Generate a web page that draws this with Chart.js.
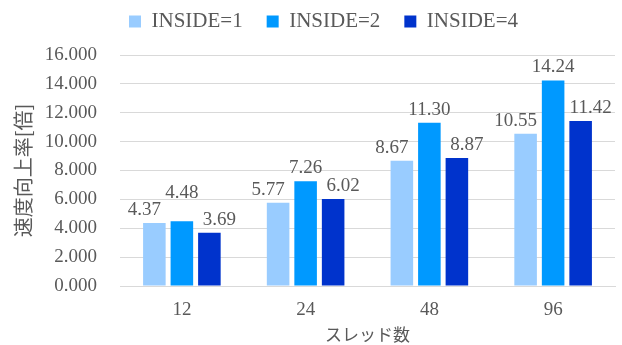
<!DOCTYPE html>
<html>
<head>
<meta charset="utf-8">
<script src="https://cdn.jsdelivr.net/npm/chart.js"></script>
<style>
  html, body { margin: 0; padding: 0; background: #fff; }
  #wrap { width: 622px; height: 345px; }
</style>
</head>
<body>
<div id="wrap"><canvas id="myChart" width="622" height="345"></canvas></div>
<script>
const threads = ["12", "24", "48", "96"];
const inside1 = [4.37, 5.77, 8.67, 10.55];
const inside2 = [4.48, 7.26, 11.30, 14.24];
const inside4 = [3.69, 6.02, 8.87, 11.42];
const yTicks = [0, 2, 4, 6, 8, 10, 12, 14, 16];

const serif = "'Liberation Serif', 'Times New Roman', Times, 'DejaVu Serif', serif";
const jp = "'Noto Sans CJK JP', sans-serif";
const grey = "#595959";

Chart.defaults.font.family = serif;
Chart.defaults.color = grey;

// values above each bar; outer labels spread sideways, middle one lifted if it collides
const barLabels = {
  id: "barLabels",
  afterDatasetsDraw(chart) {
    const ctx = chart.ctx;
    const size = 19, gap = 13, spread = 10, lift = 17;
    ctx.save();
    ctx.font = size + "px " + serif;
    ctx.fillStyle = grey;
    ctx.textAlign = "center";
    ctx.textBaseline = "middle";
    const n = chart.data.datasets.length;
    chart.data.labels.forEach((_, j) => {
      const items = chart.data.datasets.map((ds, i) => {
        const bar = chart.getDatasetMeta(i).data[j];
        const text = ds.data[j].toFixed(2);
        return { text, x: bar.x + (i - (n - 1) / 2) * spread, y: bar.y - gap, w: ctx.measureText(text).width };
      });
      const mid = items[1];
      [items[0], items[2]].forEach(o => {
        if (Math.abs(o.x - mid.x) < (o.w + mid.w) / 2 + 6) mid.y = Math.min(mid.y, o.y - lift);
      });
      items.forEach(it => ctx.fillText(it.text, it.x, it.y));
    });
    ctx.restore();
  }
};

// move the legend row up and a bit right, like the original
const legendShift = {
  id: "legendShift",
  afterLayout(chart) {
    const lg = chart.legend;
    lg.left += 16; lg.right += 16;
    lg.top -= 13; lg.bottom -= 13;
  }
};

new Chart(document.getElementById("myChart"), {
  type: "bar",
  data: {
    labels: threads,
    datasets: [
      { label: "INSIDE=1", data: inside1, backgroundColor: "#99CCFF" },
      { label: "INSIDE=2", data: inside2, backgroundColor: "#0099FF" },
      { label: "INSIDE=4", data: inside4, backgroundColor: "#0033CC" }
    ]
  },
  options: {
    responsive: false,
    animation: false,
    layout: { padding: { left: 0, right: 7, top: 0, bottom: 0 } },
    datasets: { bar: { categoryPercentage: 0.667, barPercentage: 0.82 } },
    plugins: {
      tooltip: { enabled: false },
      legend: {
        position: "top",
        labels: {
          font: { family: serif, size: 21 },
          color: grey,
          boxWidth: 12,
          boxHeight: 12,
          padding: 24
        }
      }
    },
    scales: {
      x: {
        afterFit(scale) { scale.height = 59; },
        grid: { display: false, drawTicks: false },
        border: { color: "#d9d9d9" },
        ticks: { font: { family: serif, size: 19 }, color: grey, padding: 13 },
        title: { display: true, text: "スレッド数", font: { family: jp, size: 17 }, color: grey, padding: { top: 0, bottom: 0 } }
      },
      y: {
        min: 0,
        max: 16,
        afterBuildTicks(scale) { scale.ticks = yTicks.map(v => ({ value: v })); },
        afterFit(scale) { scale.width = 120; },
        grid: { color: "#d9d9d9", drawTicks: false },
        border: { display: false },
        ticks: {
          font: { family: serif, size: 19 },
          color: grey,
          padding: 23,
          callback: v => Number(v).toFixed(3)
        },
        title: { display: true, text: "速度向上率[倍]", font: { family: jp, size: 20 }, color: grey, padding: { top: 11, bottom: 11 } }
      }
    }
  },
  plugins: [barLabels, legendShift]
});
</script>
</body>
</html>
